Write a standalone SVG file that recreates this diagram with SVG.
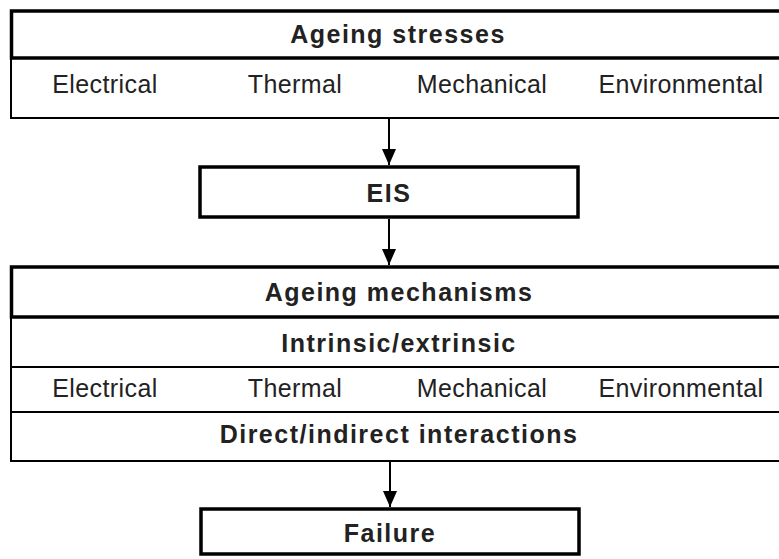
<svg xmlns="http://www.w3.org/2000/svg" width="779" height="559" viewBox="0 0 779 559">
  <style>
    .bg { fill: #ffffff; }
    .thick { fill: none; stroke: #000; stroke-width: 3.5; }
    .thin { fill: none; stroke: #000; stroke-width: 2; }
    .head { font-family: "Liberation Sans", Arial, sans-serif; font-weight: bold; font-size: 25px; letter-spacing: 1.5px; fill: #222; text-anchor: middle; }
    .item { font-family: "Liberation Sans", Arial, sans-serif; font-size: 25px; letter-spacing: 0.4px; fill: #222; text-anchor: middle; }
    .link { stroke: #000; stroke-width: 2; fill: none; }
  </style>
  <defs>
    <marker id="arrow" markerUnits="userSpaceOnUse" markerWidth="16" markerHeight="14" refX="16" refY="7" orient="auto">
      <path d="M0,0 L16,7 L0,14 Z" fill="#000"/>
    </marker>
  </defs>
  <rect class="bg" x="0" y="0" width="779" height="559"/>

  <!-- Stress factors -->
  <g id="ageing-stresses">
    <path class="thin" d="M11,58 V118 H790"/>
    <rect class="thick" x="11.5" y="11" width="780" height="47"/>
    <text class="head" x="398" y="43">Ageing stresses</text>
    <text class="item" x="105" y="93">Electrical</text>
    <text class="item" x="295" y="93">Thermal</text>
    <text class="item" x="482" y="93">Mechanical</text>
    <text class="item" x="681" y="93">Environmental</text>
  </g>

  <!-- Electrical insulation system -->
  <g id="eis">
    <rect class="thick" x="200" y="167" width="378" height="50"/>
    <text class="head" x="389" y="202">EIS</text>
  </g>

  <!-- Mechanisms -->
  <g id="ageing-mechanisms">
    <path class="thin" d="M11,317 V461 H790 M11,367 H790 M11,412 H790"/>
    <rect class="thick" x="11.5" y="267" width="780" height="50"/>
    <text class="head" x="399" y="301">Ageing mechanisms</text>
    <text class="head" x="399" y="352">Intrinsic/extrinsic</text>
    <text class="item" x="105" y="397">Electrical</text>
    <text class="item" x="295" y="397">Thermal</text>
    <text class="item" x="482" y="397">Mechanical</text>
    <text class="item" x="681" y="397">Environmental</text>
    <text class="head" x="399" y="443">Direct/indirect interactions</text>
  </g>

  <!-- Outcome -->
  <g id="failure">
    <rect class="thick" x="201" y="509" width="378" height="45"/>
    <text class="head" x="390" y="542">Failure</text>
  </g>

  <g id="connectors">
    <line class="link" x1="389" y1="119" x2="389" y2="165" marker-end="url(#arrow)"/>
    <line class="link" x1="389" y1="219" x2="389" y2="265" marker-end="url(#arrow)"/>
    <line class="link" x1="390" y1="462" x2="390" y2="507" marker-end="url(#arrow)"/>
  </g>
</svg>
